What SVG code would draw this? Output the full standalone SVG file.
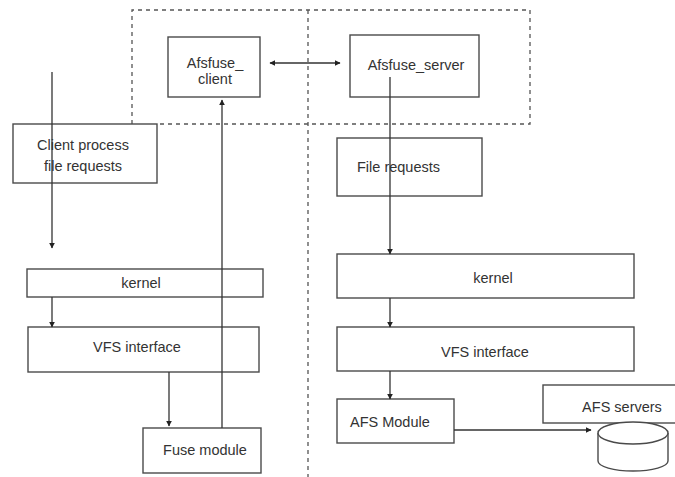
<svg xmlns="http://www.w3.org/2000/svg" width="675" height="477" viewBox="0 0 675 477">
<style>
.box{fill:#fff;stroke:#4a4a4a;stroke-width:1.4}
.dash{fill:none;stroke:#555;stroke-width:1.3;stroke-dasharray:4 4}
.ln{fill:none;stroke:#333;stroke-width:1.3}
text{font-family:"Liberation Sans",Arial,sans-serif;font-size:14.5px;fill:#333}
.c{text-anchor:middle}
</style>
<defs>
<marker id="ah" viewBox="0 0 10 10" refX="9" refY="5" markerWidth="6" markerHeight="6" orient="auto-start-reverse" markerUnits="userSpaceOnUse">
<path d="M0,0 L10,5 L0,10 z" fill="#222"/>
</marker>
</defs>
<g id="boundary">
<path class="dash" d="M132,124 V10 H530 V124 H157"/>
<line class="dash" x1="308" y1="10" x2="308" y2="477"/>
</g>
<g id="afsfuse_client"><rect class="box" x="168" y="37" width="92" height="60"/><text class="c" x="215" y="68">Afsfuse_</text><text class="c" x="215" y="84">client</text></g>
<g id="afsfuse_server"><rect class="box" x="350" y="35" width="129" height="62"/><text class="c" x="416" y="70">Afsfuse_server</text></g>
<g id="client_process"><rect class="box" x="13" y="124" width="144" height="59"/><text class="c" x="83" y="150">Client process</text><text class="c" x="83" y="171">file requests</text></g>
<g id="file_requests"><rect class="box" x="337" y="138" width="145" height="58"/><text x="357" y="172">File requests</text></g>
<g id="kernel_left"><rect class="box" x="27" y="269" width="236" height="28"/><text class="c" x="141" y="288">kernel</text></g>
<g id="kernel_right"><rect class="box" x="337" y="254" width="297" height="44"/><text class="c" x="493" y="283">kernel</text></g>
<g id="vfs_left"><rect class="box" x="28" y="327" width="231" height="45"/><text class="c" x="137" y="352">VFS interface</text></g>
<g id="vfs_right"><rect class="box" x="337" y="327" width="297" height="44"/><text class="c" x="485" y="357">VFS interface</text></g>
<g id="fuse_module"><rect class="box" x="143" y="428" width="118" height="45"/><text class="c" x="205" y="455">Fuse module</text></g>
<g id="afs_module"><rect class="box" x="337" y="399" width="117" height="44"/><text x="350" y="427">AFS Module</text></g>
<g id="afs_servers"><rect class="box" x="543" y="385" width="140" height="38"/><text class="c" x="622" y="412">AFS servers</text>
<path class="box" d="M598,433 V461 A35,10 0 0 0 668,461 V433"/>
<ellipse class="box" cx="633" cy="433" rx="35" ry="11"/>
</g>
<g id="connectors">
<line class="ln" x1="52" y1="72" x2="52" y2="248" marker-end="url(#ah)"/>
<line class="ln" x1="270" y1="63" x2="340" y2="63" marker-start="url(#ah)" marker-end="url(#ah)"/>
<line class="ln" x1="390" y1="77" x2="390" y2="254" marker-end="url(#ah)"/>
<line class="ln" x1="222" y1="428" x2="222" y2="100" marker-end="url(#ah)"/>
<line class="ln" x1="52" y1="297" x2="52" y2="327" marker-end="url(#ah)"/>
<line class="ln" x1="169" y1="372" x2="169" y2="426" marker-end="url(#ah)"/>
<line class="ln" x1="390" y1="298" x2="390" y2="327" marker-end="url(#ah)"/>
<line class="ln" x1="390" y1="371" x2="390" y2="399" marker-end="url(#ah)"/>
<line class="ln" x1="454" y1="430" x2="591" y2="430" marker-end="url(#ah)"/>
</g>
</svg>
